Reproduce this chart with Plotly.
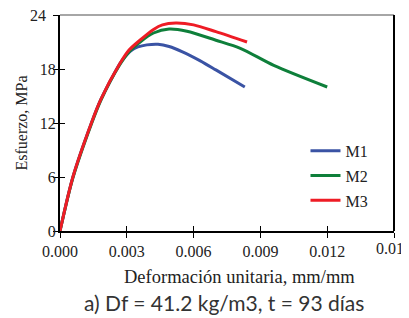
import plotly.graph_objects as go

m1_x = [0, 0.00058, 0.00141, 0.00183, 0.00269, 0.0029, 0.0032, 0.0035, 0.0039, 0.0044, 0.0049, 0.0055, 0.0063, 0.0070, 0.0083]
m1_y = [0, 6.0, 12.0, 14.6, 18.6, 19.3, 20.05, 20.45, 20.68, 20.75, 20.5, 19.9, 18.9, 17.9, 16.0]

m2_x = [0, 0.00058, 0.00141, 0.00183, 0.00269, 0.0031, 0.0036, 0.0042, 0.0049, 0.0057, 0.0070, 0.0081, 0.0096, 0.0120]
m2_y = [0, 5.9, 11.9, 14.5, 18.5, 19.9, 21.0, 22.0, 22.44, 22.2, 21.2, 20.3, 18.4, 16.0]

m3_x = [0, 0.00058, 0.00141, 0.00183, 0.00269, 0.0031, 0.00359, 0.0042, 0.0046, 0.0052, 0.0060, 0.0070, 0.0084]
m3_y = [0, 6.0, 12.0, 14.6, 18.6, 20.1, 21.2, 22.4, 22.9, 23.1, 22.9, 22.15, 21.0]

names = ["M1", "M2", "M3"]
colors = ["#3A53A4", "#0E7F3A", "#EE1C25"]

x_ticks = [0, 0.003, 0.006, 0.009, 0.012, 0.015]
y_ticks = [0, 6, 12, 18, 24]

serif = "Liberation Serif"
x_title = "Deformación unitaria, mm/mm"
y_title = "Esfuerzo, MPa"
caption = "a) Df = 41.2 kg/m3, t = 93 días"

fig = go.Figure()
for nm, xs, ys, c in zip(names, [m1_x, m2_x, m3_x], [m1_y, m2_y, m3_y], colors):
    fig.add_trace(go.Scatter(x=xs, y=ys, mode="lines", name=nm, legendgroup=nm,
                             line=dict(color=c, width=3, shape="spline", smoothing=0.8)))

# invisible trace for inside ticks overlay
fig.add_trace(go.Scatter(x=[0], y=[0], xaxis="x2", yaxis="y2", mode="markers",
                         marker=dict(opacity=0), showlegend=False, hoverinfo="skip"))

tick_font = dict(family=serif, size=16, color="#222")
axis_common = dict(showgrid=False, zeroline=False, ticks="outside", ticklen=5,
                   tickwidth=1, tickcolor="black", linecolor="black", linewidth=2,
                   showline=True, automargin=False, tickfont=tick_font)

# edge tick labels that plotly would hide at the figure border
edge_labels = []
edge_labels.append(dict(text=f"{y_ticks[-1]}", xref="paper", yref="y", x=0, y=y_ticks[-1],
                        xanchor="right", yanchor="middle", xshift=-12, showarrow=False, font=tick_font))
edge_labels.append(dict(text=f"{x_ticks[-1]:.3f}", xref="x", yref="paper", x=x_ticks[-1], y=0,
                        xanchor="center", yanchor="top", yshift=-7, showarrow=False, font=tick_font))

fig.update_layout(
    width=401, height=310,
    margin=dict(l=52, r=15, t=7, b=87),
    plot_bgcolor="white", paper_bgcolor="white",
    xaxis=dict(range=[0, 0.015], tickvals=x_ticks, tickformat=".3f", **axis_common),
    yaxis=dict(range=[0, 24], tickvals=y_ticks, ticklabelstandoff=-6, **axis_common,
               title=dict(text=y_title, font=dict(family=serif, size=16, color="#222"), standoff=8)),
    xaxis2=dict(overlaying="x", anchor="y2", range=[0, 0.015], tickvals=x_ticks, ticks="inside",
                ticklen=5, tickcolor="black", showticklabels=False, showgrid=False, zeroline=False, showline=False),
    yaxis2=dict(overlaying="y", anchor="x2", range=[0, 24], tickvals=y_ticks, ticks="inside",
                ticklen=5, tickcolor="black", showticklabels=False, showgrid=False, zeroline=False, showline=False),
    legend=dict(x=0.735, y=0.45, xanchor="left", yanchor="top", bgcolor="rgba(0,0,0,0)",
                font=dict(family=serif, size=16, color="#222"), tracegroupgap=1, itemwidth=30),
    showlegend=True,
    shapes=[
        dict(type="line", xref="paper", yref="paper", x0=0, x1=1, y0=1, y1=1, line=dict(color="#888", width=1.5)),
        dict(type="line", xref="paper", yref="paper", x0=1, x1=1, y0=0, y1=1, line=dict(color="black", width=2)),
    ],
    annotations=edge_labels + [
        dict(text=x_title, xref="paper", yref="paper",
             x=0.536, y=-0.213, xanchor="center", yanchor="middle", showarrow=False,
             font=dict(family=serif, size=18.5, color="#222")),
        dict(text=caption, xref="paper", yref="paper",
             x=0.491, y=-0.333, xanchor="center", yanchor="middle", showarrow=False,
             font=dict(family="Lato", size=21, color="#333")),
    ],
)

fig.write_html("out.html")
